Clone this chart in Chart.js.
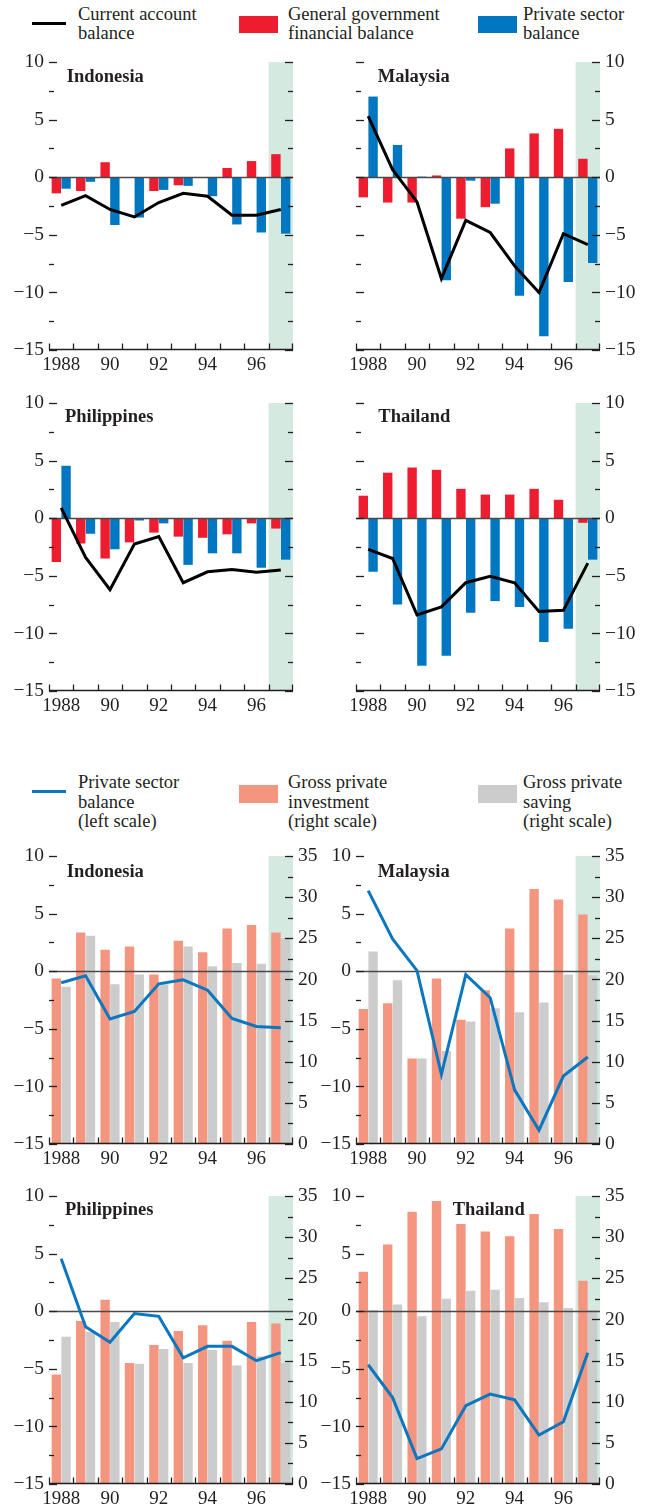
<!DOCTYPE html>
<html><head><meta charset="utf-8">
<script src="https://cdn.jsdelivr.net/npm/chart.js@4.4.0/dist/chart.umd.min.js"></script>
<style>
body{margin:0;background:#fff;width:650px;height:1505px;position:relative;overflow:hidden;font-family:"Liberation Serif","Times New Roman",serif;color:#231f20;}
.lt{position:absolute;font-size:18.5px;line-height:19.5px;white-space:nowrap;}
.ttl{position:absolute;font-weight:bold;font-size:18.5px;line-height:18.5px;white-space:nowrap;}
.sw{position:absolute;}
canvas{position:absolute;}
</style></head><body>

<div class="sw" style="left:32px;top:22px;width:34px;height:3px;background:#000"></div>
<div class="lt" style="left:78px;top:4.7px">Current account<br>balance</div>
<div class="sw" style="left:239px;top:16px;width:39px;height:17px;background:#ed1c2e"></div>
<div class="lt" style="left:288px;top:4.7px">General government<br>financial balance</div>
<div class="sw" style="left:478px;top:16px;width:39px;height:17px;background:#0077c0"></div>
<div class="lt" style="left:523px;top:4.7px">Private sector<br>balance</div>

<div class="sw" style="left:32px;top:790px;width:34px;height:3px;background:#0a77bf"></div>
<div class="lt" style="left:78px;top:773px">Private sector<br>balance<br>(left scale)</div>
<div class="sw" style="left:239px;top:785px;width:39px;height:18px;background:#f4957f"></div>
<div class="lt" style="left:288px;top:773px">Gross private<br>investment<br>(right scale)</div>
<div class="sw" style="left:478px;top:785px;width:39px;height:18px;background:#cccccc"></div>
<div class="lt" style="left:523px;top:773px">Gross private<br>saving<br>(right scale)</div>

<canvas id="c1" width="343" height="340" style="left:0px;top:42px"></canvas>
<canvas id="c2" width="344" height="340" style="left:306px;top:42px"></canvas>
<canvas id="c3" width="343" height="340" style="left:0px;top:383px"></canvas>
<canvas id="c4" width="344" height="340" style="left:306px;top:383px"></canvas>
<canvas id="c5" width="343" height="340" style="left:0px;top:836px"></canvas>
<canvas id="c6" width="344" height="340" style="left:306px;top:836px"></canvas>
<canvas id="c7" width="343" height="340" style="left:0px;top:1176px"></canvas>
<canvas id="c8" width="344" height="340" style="left:306px;top:1176px"></canvas>

<div class="ttl" style="left:66.7px;top:67.3px">Indonesia</div>
<div class="ttl" style="left:377.7px;top:67.3px">Malaysia</div>
<div class="ttl" style="left:65px;top:406.6px">Philippines</div>
<div class="ttl" style="left:378.3px;top:406.6px">Thailand</div>
<div class="ttl" style="left:66.7px;top:861.6px">Indonesia</div>
<div class="ttl" style="left:377.7px;top:861.6px">Malaysia</div>
<div class="ttl" style="left:65px;top:1199.9px">Philippines</div>
<div class="ttl" style="left:452.7px;top:1199.9px">Thailand</div>

<script>
// ---- categories and tick labels ----
const years = ['1988','1989','1990','1991','1992','1993','1994','1995','1996','1997'];
const xTickLabels = ['1988','','90','','92','','94','','96',''];

// ---- upper charts: % of GDP ----
const idnGov  = [-1.4, -1.2, 1.3, -0.05, -1.2, -0.7, -0.05, 0.8, 1.4, 2.0];
const idnPriv = [-1.0, -0.4, -4.15, -3.5, -1.1, -0.75, -1.65, -4.1, -4.8, -4.9];
const idnCA   = [-2.45, -1.6, -2.8, -3.45, -2.2, -1.4, -1.65, -3.3, -3.3, -2.8];

const myGov   = [-1.75, -2.2, -2.2, 0.15, -3.6, -2.6, 2.5, 3.8, 4.2, 1.6];
const myPriv  = [7.0, 2.8, 0.05, -8.95, -0.3, -2.3, -10.3, -13.8, -9.1, -7.45];
const myCA    = [5.3, 0.65, -2.15, -8.8, -3.75, -4.8, -7.7, -10.0, -4.9, -5.85];

const phGov   = [-3.8, -2.2, -3.5, -2.1, -1.25, -1.6, -1.7, -1.4, -0.45, -0.9];
const phPriv  = [4.55, -1.35, -2.7, -0.2, -0.45, -4.05, -3.05, -3.05, -4.3, -3.6];
const phCA    = [0.9, -3.4, -6.2, -2.25, -1.6, -5.6, -4.65, -4.45, -4.7, -4.5];

const thGov   = [1.95, 3.95, 4.4, 4.2, 2.55, 2.05, 2.05, 2.55, 1.6, -0.4];
const thPriv  = [-4.65, -7.5, -12.8, -11.95, -8.2, -7.2, -7.7, -10.75, -9.6, -3.6];
const thCA    = [-2.7, -3.5, -8.4, -7.7, -5.6, -5.05, -5.6, -8.1, -8.0, -3.9];

// ---- lower charts: investment / saving (right scale) ----
const idnInv = [20.1, 25.7, 23.6, 24.0, 20.6, 24.7, 23.3, 26.2, 26.6, 25.7];
const idnSav = [19.1, 25.3, 19.4, 20.6, 19.4, 24.0, 21.6, 22.0, 21.9, 25.0];
const myInv  = [16.4, 17.1, 10.4, 20.1, 15.1, 18.7, 26.2, 31.0, 29.7, 27.9];
const mySav  = [23.4, 19.9, 10.4, 11.3, 14.9, 16.5, 16.0, 17.2, 20.6, 20.5];
const phInv  = [13.3, 19.8, 22.4, 14.7, 16.9, 18.6, 19.3, 17.4, 19.7, 19.5];
const phSav  = [17.9, 18.5, 19.7, 14.6, 16.4, 14.7, 16.3, 14.4, 15.5, 14.7];
const thInv  = [25.8, 29.1, 33.1, 34.4, 31.6, 30.7, 30.1, 32.8, 31.0, 24.7];
const thSav  = [21.15, 21.8, 20.4, 22.5, 23.5, 23.6, 22.6, 22.1, 21.4, 21.15];

// ---- scale ranges ----
const leftMin = -15, leftMax = 10, rightMin = 0, rightMax = 35, tickStep = 2.5;

const INK = '#231f20';
const RED = '#ed1c2e', BLUE = '#0077c0', SALMON = '#f4957f', GREY = '#cccccc', SHADE = '#d4e9e0', LINEBLUE = '#0a77bf';
const FONT = '"Liberation Serif","Times New Roman",serif';

function fmt(v){
  if (Math.abs(v % 5) > 1e-6) return '';
  return v < 0 ? '\u2212' + Math.abs(v) : String(v);
}

const deco = {
  id: 'deco',
  beforeDatasetsDraw(chart){
    const {ctx, chartArea:a, scales:{x}} = chart;
    const half = (x.getPixelForValue(1) - x.getPixelForValue(0)) / 2;
    const l = x.getPixelForValue(years.length - 1) - half;
    ctx.save();
    ctx.fillStyle = SHADE;
    ctx.fillRect(l, a.top, a.right - l, a.bottom - a.top);
    ctx.restore();
  },
  beforeDatasetDraw(chart, args){
    if (args.meta.type !== 'line') return;
    const {ctx, chartArea:a, scales:{y}} = chart;
    const py = Math.round(y.getPixelForValue(0)) + 0.5;
    ctx.save();
    ctx.strokeStyle = '#4a4a4a';
    ctx.lineWidth = 1.3;
    ctx.beginPath(); ctx.moveTo(a.left, py); ctx.lineTo(a.right, py); ctx.stroke();
    ctx.restore();
  },
  afterDatasetsDraw(chart){
    const {ctx, chartArea:a, scales} = chart;
    const x = scales.x, y = scales.y, y1 = scales.y1 || scales.y;
    ctx.save();
    ctx.strokeStyle = INK;
    ctx.lineWidth = 1.3;
    const dash = (sc, side) => {
      sc.ticks.forEach(t => {
        const py = Math.round(sc.getPixelForValue(t.value)) + 0.5;
        const len = Math.abs(t.value % 5) < 1e-6 ? 8 : 5;
        ctx.beginPath();
        if (side === 'l') { ctx.moveTo(a.left, py); ctx.lineTo(a.left + len, py); }
        else { ctx.moveTo(a.right - len, py); ctx.lineTo(a.right, py); }
        ctx.stroke();
      });
    };
    dash(y, 'l');
    dash(y1, 'r');
    const by = Math.round(a.bottom) - 0.5;
    ctx.beginPath(); ctx.moveTo(a.left, by); ctx.lineTo(a.right, by); ctx.stroke();
    const half = (x.getPixelForValue(1) - x.getPixelForValue(0)) / 2;
    for (let i = 0; i <= years.length; i++) {
      let px = (i < years.length ? x.getPixelForValue(i) - half : x.getPixelForValue(years.length - 1) + half);
      px = Math.round(px) + (i === years.length ? -0.5 : 0.5);
      ctx.beginPath(); ctx.moveTo(px, by - 6); ctx.lineTo(px, by + 0.5); ctx.stroke();
    }
    ctx.restore();
  }
};

function yAxis(pos, min, max, width, show){
  return {
    type: 'linear', position: pos, min: min, max: max,
    afterFit(s){ s.width = width; },
    grid: {display: false, drawTicks: false},
    border: {display: false},
    ticks: {stepSize: tickStep, autoSkip: false, display: show, padding: 5, color: INK,
            font: {family: FONT, size: 19.5}, callback: v => fmt(v)}
  };
}
function xAxis(){
  return {
    type: 'category', offset: true,
    afterFit(s){ s.height = 32; },
    grid: {display: false, drawTicks: false},
    border: {display: false},
    ticks: {autoSkip: false, maxRotation: 0, minRotation: 0, padding: 4, color: INK,
            font: {family: FONT, size: 19}, callback: (v, i) => xTickLabels[i]}
  };
}

const colW = [{lw: 49, rw: 50}, {lw: 50, rw: 50}];
const barOpts = {categoryPercentage: 0.8, barPercentage: 0.96, borderWidth: 0, order: 1};

function topChart(id, col, gov, priv, ca){
  const side = col === 0 ? 'left' : 'right';
  const w = colW[col];
  new Chart(document.getElementById(id), {
    data: {
      labels: years,
      datasets: [
        Object.assign({type: 'bar', label: 'General government financial balance', data: gov, backgroundColor: RED}, barOpts),
        Object.assign({type: 'bar', label: 'Private sector balance', data: priv, backgroundColor: BLUE}, barOpts),
        {type: 'line', label: 'Current account balance', data: ca, borderColor: '#000', borderWidth: 3, pointRadius: 0, tension: 0, fill: false, order: 0}
      ]
    },
    options: {
      responsive: false, animation: false, devicePixelRatio: 1, events: [],
      layout: {padding: {top: 20, bottom: 0, left: side === 'left' ? 0 : w.lw, right: side === 'left' ? w.rw : 0}},
      plugins: {legend: {display: false}, tooltip: {enabled: false}},
      scales: {
        x: xAxis(),
        y: yAxis(side, leftMin, leftMax, side === 'left' ? w.lw : w.rw, true)
      }
    },
    plugins: [deco]
  });
}

function bottomChart(id, col, inv, sav, priv){
  const w = colW[col];
  new Chart(document.getElementById(id), {
    data: {
      labels: years,
      datasets: [
        Object.assign({type: 'bar', label: 'Gross private investment', data: inv, backgroundColor: SALMON, yAxisID: 'y1'}, barOpts),
        Object.assign({type: 'bar', label: 'Gross private saving', data: sav, backgroundColor: GREY, yAxisID: 'y1'}, barOpts),
        {type: 'line', label: 'Private sector balance', data: priv, yAxisID: 'y', borderColor: LINEBLUE, borderWidth: 3, pointRadius: 0, tension: 0, fill: false, order: 0}
      ]
    },
    options: {
      responsive: false, animation: false, devicePixelRatio: 1, events: [],
      layout: {padding: {top: 20, bottom: 0, left: 0, right: 0}},
      plugins: {legend: {display: false}, tooltip: {enabled: false}},
      scales: {
        x: xAxis(),
        y: yAxis('left', leftMin, leftMax, w.lw, true),
        y1: yAxis('right', rightMin, rightMax, w.rw, true)
      }
    },
    plugins: [deco]
  });
}

topChart('c1', 0, idnGov, idnPriv, idnCA);
topChart('c2', 1, myGov, myPriv, myCA);
topChart('c3', 0, phGov, phPriv, phCA);
topChart('c4', 1, thGov, thPriv, thCA);
bottomChart('c5', 0, idnInv, idnSav, idnPriv);
bottomChart('c6', 1, myInv, mySav, myPriv);
bottomChart('c7', 0, phInv, phSav, phPriv);
bottomChart('c8', 1, thInv, thSav, thPriv);
</script>
</body></html>
